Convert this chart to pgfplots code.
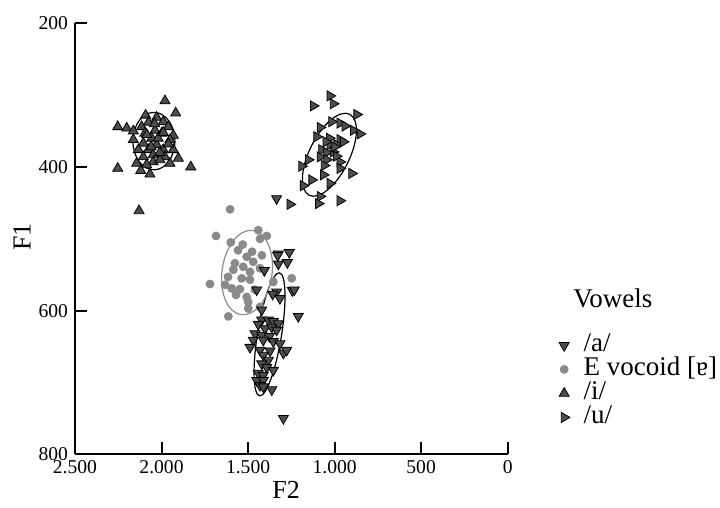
\documentclass[border=0pt]{standalone}
\usepackage{fontspec}
\setmainfont{Liberation Serif}
\usepackage{pgfplots}
\usepackage{pgfplotstable}
\pgfplotsset{compat=1.18}
\definecolor{trifill}{HTML}{4D4D4D}
\definecolor{dotgray}{HTML}{8A8A8A}
\definecolor{ellgray}{HTML}{8C8C8C}

\pgfplotstableread{
x y
1325 521
1262 519
1325 535
1273 533
1406 544
1335 574
1358 577
1316 583
1244 572
1210 608
1421 613
1383 613
1354 615
1325 618
1441 619
1402 625
1363 623
1335 627
1460 632
1421 634
1377 636
1470 641
1412 641
1354 643
1316 646
1489 651
1431 655
1373 656
1296 659
1277 655
1412 662
1383 669
1421 674
1392 679
1354 683
1441 687
1412 690
1450 697
1412 697
1431 704
1363 710
1412 706
1450 571
1329 523
1233 571
1421 599
1296 750
1335 444
}\dataA

\pgfplotstableread{
x y
1604 459
1685 496
1441 488
1392 496
1431 500
1600 505
1531 508
1508 525
1576 534
1470 532
1431 541
1585 543
1528 539
1489 546
1537 555
1489 557
1720 563
1633 564
1595 569
1547 570
1460 571
1508 581
1499 588
1499 597
1431 595
1614 608
1354 560
1248 555
1558 516
1477 518
1616 553
1420 523
1570 578
}\dataE

\pgfplotstableread{
x y
1980 308
1918 325
2092 328
2028 331
2253 344
2201 346
2163 350
2115 344
2076 338
1990 337
1961 344
2038 349
1999 353
1932 356
2096 353
2163 362
2057 360
1951 362
2105 367
2028 369
2134 376
2076 376
1990 376
1932 376
2048 383
2105 386
1980 386
1903 388
2048 393
2144 395
2086 397
2253 402
2120 405
2067 410
1831 400
2130 461
2009 390
1951 395
2020 360
1990 352
2060 372
2010 380
2085 355
1960 368
2040 340
}\dataI

\pgfplotstableread{
x y
1027 301
1008 312
1123 315
872 327
1017 337
969 339
940 343
892 349
853 354
1084 345
1103 358
969 362
1027 369
1075 376
988 369
950 365
1046 380
1008 379
1084 386
1046 390
969 393
1152 390
1190 399
969 402
901 409
1065 411
1132 418
1181 426
1027 423
1084 441
1094 451
969 447
1258 452
1030 360
1000 372
1050 365
990 385
1060 398
}\dataU

\begin{document}
\begin{tikzpicture}
\begin{axis}[
  scale only axis, width=216.35pt, height=215.5pt,
  xmin=0, xmax=2500, ymin=200, ymax=800,
  x dir=reverse, y dir=reverse,
  axis lines*=left,
  axis line style={line width=1pt},
  xtick={0,500,1000,1500,2000,2500},
  ytick={200,400,600,800},
  tick align=inside, major tick length=6pt,
  tick style={line width=1pt, black},
  /pgf/number format/assume math mode=true,
  /pgf/number format/1000 sep={.},
  ticklabel style={font=\fontsize{9.8}{11}\selectfont},
  xticklabel style={yshift=0.5pt},
  xlabel={F2}, ylabel={F1},
  label style={font=\fontsize{13}{15}\selectfont},
  xlabel style={at={(axis description cs:0.488,-0.083)}, anchor=center},
  ylabel style={at={(axis description cs:-0.1225,0.504)}, anchor=center},
  clip=false,
  legend cell align=left,
  legend style={draw=none, fill=none, inner sep=0pt,
    at={(axis description cs:1.1056,0.2814)}, anchor=north west,
    font=\fontsize{13.5}{15}\selectfont,
    nodes={inner ysep=0pt, text height=9pt, text depth=3pt}},
  legend image code/.code={%
    \path (0pt,0pt) (12.5pt,0pt);
    \draw[#1] plot coordinates {(5pt,0pt)};},
  tri/.style={only marks, mark=triangle*, mark size=2.9pt,
    mark options={fill=trifill, draw=black, line width=0.4pt, rotate=#1}},
  tri/.default=0,
  dot/.style={only marks, mark=*, mark size=2pt,
    mark options={fill=dotgray, draw=dotgray}},
]
\addplot[forget plot, dot] table {\dataE};
\addplot[forget plot, tri=180] table {\dataA};
\addplot[forget plot, tri] table {\dataI};
\addplot[forget plot, tri=-90] table {\dataU};

\draw[black, line width=0.6pt] (axis cs:1376,633) ellipse [x radius=6pt, y radius=31.15pt, rotate=-9.2];
\draw[ellgray, line width=0.6pt] (axis cs:1506,547) ellipse [x radius=12.5pt, y radius=21.25pt, rotate=-8];
\draw[black, line width=0.6pt] (axis cs:2044,364) ellipse [x radius=10.5pt, y radius=14.35pt];
\draw[black, line width=0.6pt] (axis cs:1030,383) ellipse [x radius=10pt, y radius=22.65pt, rotate=-26.5];

\addlegendimage{tri=180}
\addlegendentry{/a/}
\addlegendimage{dot}
\addlegendentry{E vocoid [ɐ]}
\addlegendimage{tri}
\addlegendentry{/i/}
\addlegendimage{tri=-90}
\addlegendentry{/u/}

\node[font=\fontsize{13.5}{15}\selectfont] at (axis description cs:1.243,0.3627) {Vowels};
\end{axis}
\pgfresetboundingbox
\path[use as bounding box] (-37.5pt,-26.85pt) rectangle (322.5pt,227.15pt);
\end{tikzpicture}
\end{document}
